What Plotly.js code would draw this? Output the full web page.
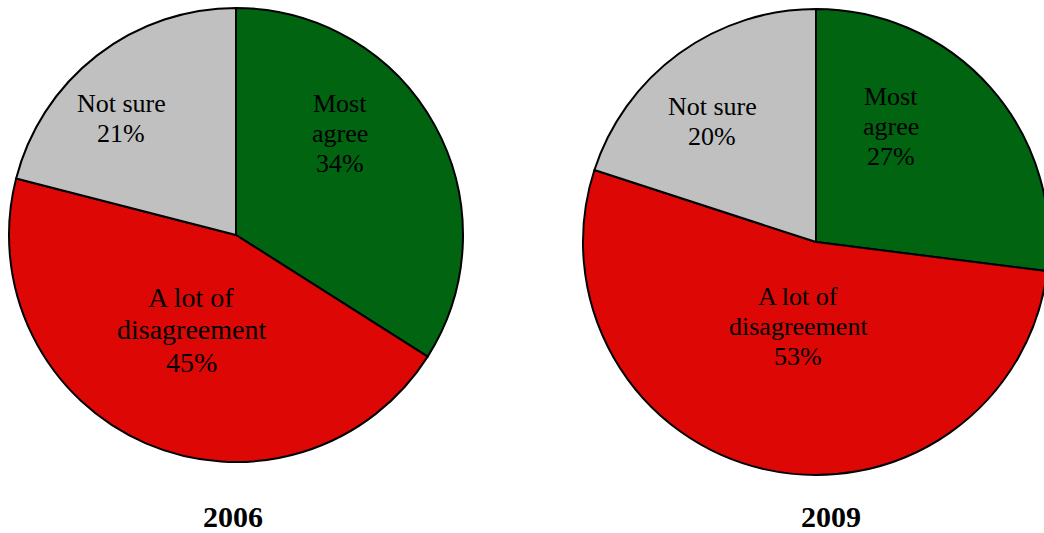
<!DOCTYPE html>
<html>
<head>
<meta charset="utf-8">
<script src="https://cdn.plot.ly/plotly-3.0.1.min.js"></script>
<style>
html,body{margin:0;padding:0;overflow:hidden;background:#fff;}
#chart{width:1060px;height:533px;}
</style>
</head>
<body>
<div id="chart"></div>
<script>
// ---- data ----
const categories = ['Most<br>agree', 'A lot of<br>disagreement', 'Not sure'];
const years = ['2006', '2009'];
const values2006 = [34, 45, 21];
const values2009 = [27, 53, 20];
const colors = ['#006411', '#dd0806', '#c0c0c0'];

// ---- layout helpers (pixel geometry) ----
const W = 1060, H = 533;
const px = x => x / W;
const py = y => 1 - y / H;

// pie geometry: center x, center y, radius (px)
const pies = [
  {cx: 236, cy: 235, r: 227, values: values2006, year: years[0], titleX: 232.5},
  {cx: 816, cy: 242, r: 233, values: values2009, year: years[1], titleX: 831}
];
// label placement per pie: [centerX, firstBaseline, lineSpacing, fontSize]
const labelPos = [
  [[340, 112, 30, 26], [191, 307, 32.5, 28], [121, 112, 30, 26]],
  [[891, 105, 30, 26], [798, 305, 30, 26], [712, 115, 30, 26]]
];

const FONT = "'Liberation Serif', 'Times New Roman', Times, serif";
const traces = [];
const annotations = [];

pies.forEach((p, i) => {
  traces.push({
    type: 'pie',
    labels: categories,
    values: p.values,
    sort: false,
    direction: 'clockwise',
    rotation: 0,
    textinfo: 'none',
    hoverinfo: 'label+percent',
    showlegend: false,
    marker: {colors: colors, line: {color: '#000', width: 2}},
    domain: {
      x: [px(p.cx - p.r), px(p.cx + p.r)],
      y: [py(p.cy + p.r), py(p.cy - p.r)]
    }
  });
  const total = p.values.reduce((a, b) => a + b, 0);
  categories.forEach((c, k) => {
    const [lx, by, sp, fs] = labelPos[i][k];
    const lines = c.split('<br>').concat([Math.round(p.values[k] / total * 100) + '%']);
    lines.forEach((t, j) => {
      annotations.push({
        text: t, showarrow: false, xref: 'paper', yref: 'paper',
        x: px(lx), y: py(by + j * sp - 0.34 * fs),
        xanchor: 'center', yanchor: 'middle',
        font: {family: FONT, size: fs, color: '#000'}
      });
    });
  });
  annotations.push({
    text: '<b>' + p.year + '</b>', showarrow: false, xref: 'paper', yref: 'paper',
    x: px(p.titleX), y: py(527 - 0.34 * 30),
    xanchor: 'center', yanchor: 'middle',
    font: {family: FONT, size: 30, color: '#000'}
  });
});

Plotly.newPlot('chart', traces, {
  width: W, height: H,
  margin: {l: 0, r: 0, t: 0, b: 0},
  paper_bgcolor: '#fff',
  annotations: annotations,
  font: {family: FONT}
}, {displayModeBar: false, staticPlot: true});
</script>
</body>
</html>
